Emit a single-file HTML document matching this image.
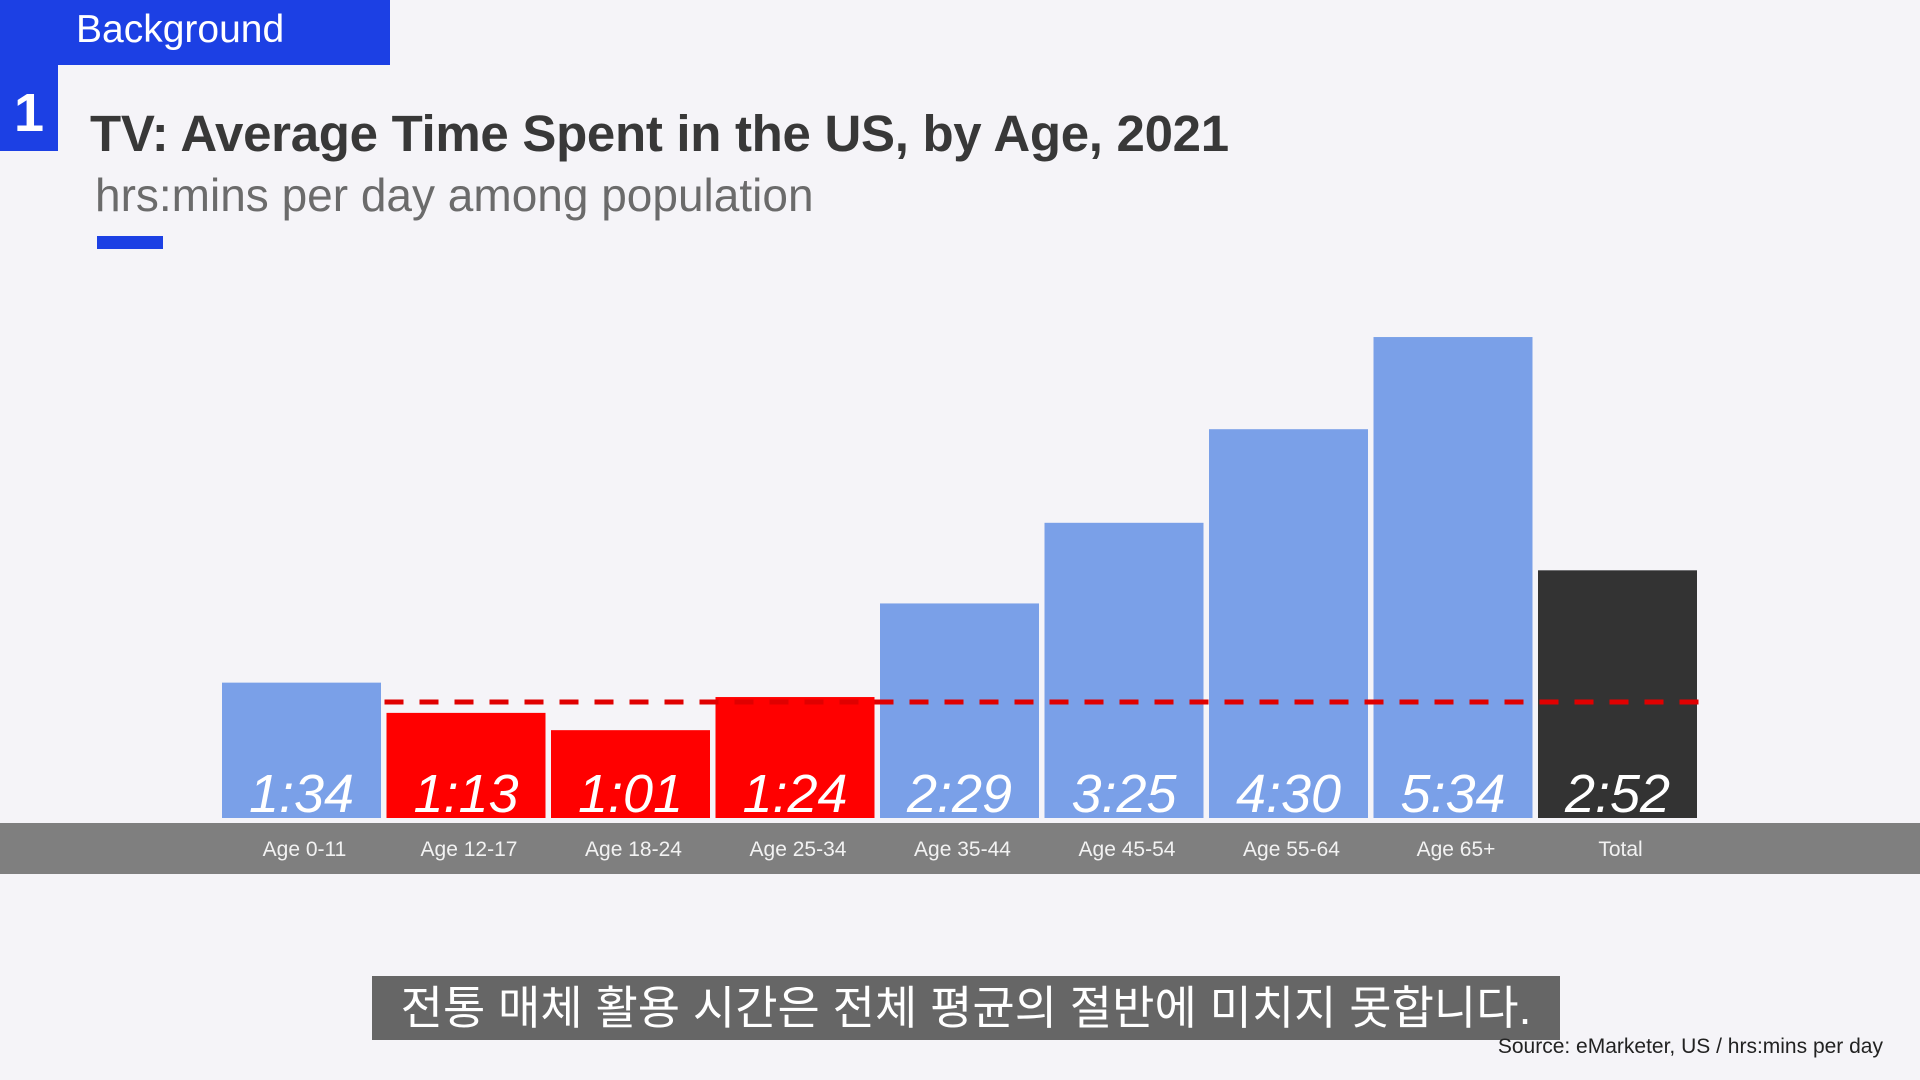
<!DOCTYPE html>
<html><head><meta charset="utf-8"><style>
body{margin:0;width:1920px;height:1080px;background:#f5f4f8;position:relative;overflow:hidden;font-family:"Liberation Sans","Noto Sans CJK KR",sans-serif}
.abs{position:absolute}
</style></head><body>
<div class="abs" style="left:0;top:0;width:390px;height:65px;background:#1c40e4"></div>
<div class="abs" style="left:76px;top:7px;color:#fff;font-size:39px;line-height:46px">Background</div>
<div class="abs" style="left:0;top:65px;width:58px;height:86px;background:#1c40e4;color:#fff;font-size:54px;font-weight:bold;text-align:center;line-height:96px">1</div>
<div class="abs" style="left:90px;top:104px;color:#383838;font-size:51px;font-weight:bold;letter-spacing:-0.3px">TV: Average Time Spent in the US, by Age, 2021</div>
<div class="abs" style="left:95px;top:168px;color:#6b6b6b;font-size:46px">hrs:mins per day among population</div>
<div class="abs" style="left:97px;top:236px;width:66px;height:13px;background:#1c40e4"></div>
<svg class="abs" id="chart" style="left:0;top:0" width="1920" height="1080"></svg>
<div class="abs" style="left:372px;top:976px;width:1188px;height:64px;background:#666;color:#fff;font-size:46px;line-height:64px;text-align:center">전통 매체 활용 시간은 전체 평균의 절반에 미치지 못합니다.</div>
<div class="abs" style="right:37px;top:1035px;color:#222;font-size:21px">Source: eMarketer, US / hrs:mins per day</div>
<script>
const categories=["Age 0-11","Age 12-17","Age 18-24","Age 25-34","Age 35-44","Age 45-54","Age 55-64","Age 65+","Total"];
const minutes=[94,73,61,84,149,205,270,334,172];
const labels=["1:34","1:13","1:01","1:24","2:29","3:25","4:30","5:34","2:52"];
const kinds=["blue","red","red","red","blue","blue","blue","blue","total"];
const NS="http://www.w3.org/2000/svg",svg=document.getElementById('chart');
const base=818,x0=222,pitch=164.5,bw=159;
const y=v=>base-v*1.44;
const xAt=i=>x0+i*pitch;
const colors={blue:"#7aa0e8",red:"#ff0000",total:"#333333"};
function mk(t,a){const e=document.createElementNS(NS,t);for(const k in a)e.setAttribute(k,a[k]);svg.appendChild(e);return e;}
const band=mk('rect',{x:0,y:823,width:1920,height:51,fill:'#7f7f7f'});


minutes.forEach((v,i)=>{
 const r=mk('rect',{x:xAt(i),y:y(v),width:bw,height:base-y(v),fill:colors[kinds[i]]});
 
 
 const t=mk('text',{x:xAt(i)+bw/2,y:812,'text-anchor':'middle',fill:'#fff','font-size':54,'font-style':'italic','font-family':'Liberation Sans, sans-serif'});
 t.textContent=labels[i];
 
 
 const c=mk('text',{x:xAt(i)+bw/2+3,y:856,'text-anchor':'middle',fill:'#f2f2f2','font-size':21,'font-family':'Liberation Sans, sans-serif'});
 c.textContent=categories[i];
 
 
});
const avgY=702;
const l=mk('line',{x1:xAt(1)-2,x2:xAt(8)+bw+2,y1:avgY,y2:avgY,stroke:'#e00000','stroke-width':5,'stroke-dasharray':'19 16'});


</script>
</body></html>
